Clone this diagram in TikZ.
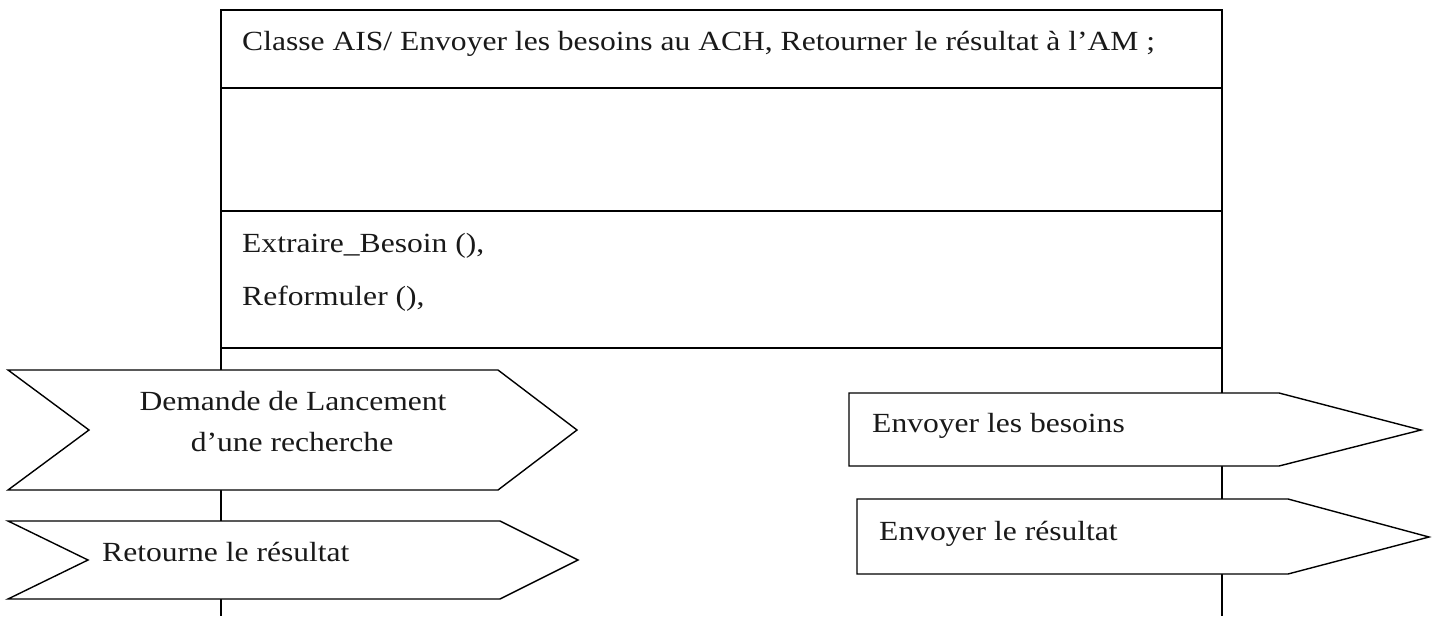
\documentclass[tikz,border=0pt]{standalone}
\usepackage{fontspec}
\setmainfont{Liberation Serif}[FakeStretch=1.14]
\begin{document}
\begin{tikzpicture}[x=1pt,y=-1pt,
  frame/.style={draw=black,line width=1.6pt},
  lifeline/.style={draw=black,line width=1.4pt},
  signalbox/.style={draw=black,fill=white,line width=1.4pt,line join=miter},
  txt/.style={inner sep=0pt,font=\fontsize{27.7pt}{33pt}\selectfont,text=black!90}]
\useasboundingbox (0,0) rectangle (1435,616);

% class box with its three compartments
\draw[frame] (221,10) rectangle (1222,348);
\draw[frame] (221,88) -- (1222,88);
\draw[frame] (221,211) -- (1222,211);

% lifelines below the class box
\draw[lifeline] (221,348) -- (221,616);
\draw[lifeline] (1222,348) -- (1222,616);

\node[txt,anchor=base west] (title) at (242,50) {Classe AIS/ Envoyer les besoins au ACH, Retourner le résultat à l’AM ;};
\node[txt,anchor=base west] (op1) at (242,252) {Extraire\_Besoin (),};
\node[txt,anchor=base west] (op2) at (242,305) {Reformuler (),};

% incoming messages (left)
\draw[signalbox] (8,370) -- (498,370) -- (577,430) -- (498,490) -- (8,490) -- (89,430) -- cycle;
\node[txt,anchor=base] (m1a) at (293,410) {Demande de Lancement};
\node[txt,anchor=base] (m1b) at (292,451) {d’une recherche};

\draw[signalbox] (8,521) -- (500,521) -- (578,560) -- (500,599) -- (8,599) -- (88,560) -- cycle;
\node[txt,anchor=base west] (m2) at (102,561) {Retourne le résultat};

% outgoing messages (right)
\draw[signalbox] (849,393) -- (1279,393) -- (1421,430) -- (1279,466) -- (849,466) -- cycle;
\node[txt,anchor=base west] (m3) at (872,432) {Envoyer les besoins};

\draw[signalbox] (857,499) -- (1288,499) -- (1429,537) -- (1288,574) -- (857,574) -- cycle;
\node[txt,anchor=base west] (m4) at (879,540) {Envoyer le résultat};
\end{tikzpicture}
\end{document}
